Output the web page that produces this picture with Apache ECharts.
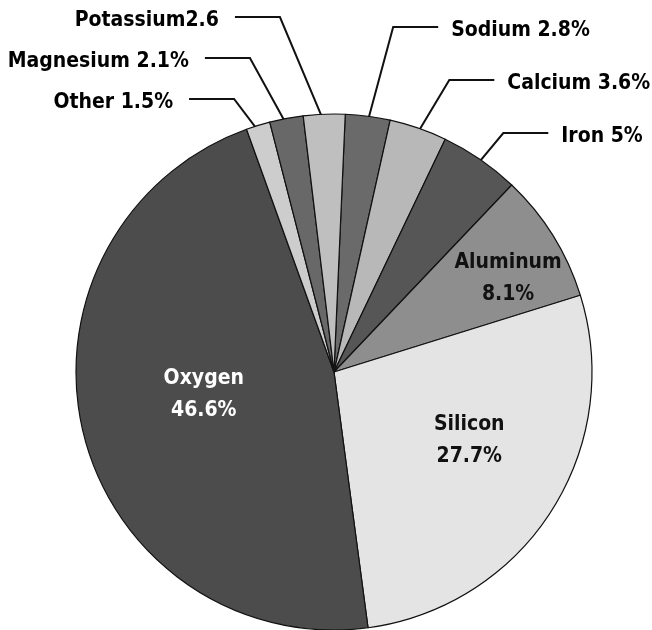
<!DOCTYPE html>
<html><head><meta charset="utf-8">
<script src="https://cdn.jsdelivr.net/npm/echarts@6/dist/echarts.min.js"></script>
<style>html,body{margin:0;padding:0;background:#fff}#c{width:652px;height:630px}</style>
</head><body><div id="c"></div>
<script>
// ---- data ----
const categories = ['Sodium', 'Calcium', 'Iron', 'Aluminum', 'Silicon', 'Oxygen', 'Other', 'Magnesium', 'Potassium'];
const values = [2.8, 3.6, 5, 8.1, 27.7, 46.6, 1.5, 2.1, 2.6];
const labelFormats = ['{b} {c}%', '{b} {c}%', '{b} {c}%', '{b}\n{c}%', '{b}\n{c}%', '{b}\n{c}%', '{b} {c}%', '{b} {c}%', '{b}{c}'];

// ---- style / layout ----
const sliceColors = ['#6a6a6a', '#b8b8b8', '#565656', '#8e8e8e', '#e4e4e4', '#4c4c4c', '#cdcdcd', '#686868', '#bfbfbf'];
const insideLabel = [false, false, false, true, true, true, false, false, false];
const insideTextColor = ['#000', '#000', '#000', '#111', '#111', '#fff', '#000', '#000', '#000'];
const insideShift = [null, null, null, [62, -24], [24, -2], [-2, -9], null, null, null];
const CX = 334, CY = 372, R = 258, START = 87.5;
const FONT = "'Liberation Sans Narrow', 'DejaVu Sans Condensed', 'Roboto Condensed', sans-serif";
const SIDE = {
  L: { top: 17, gap: 41, slopes: [0.42, 0.55, 0.76], textGap: 16 },
  R: { top: 27, gap: 53, slopes: [0.27, 0.6, 0.83], textGap: 13 }
};

// mid angles (derived from values) to rank outside labels per side
const total = values.reduce((a, b) => a + b, 0);
const mids = [];
let acc = START;
values.forEach(v => { const span = v / total * 360; mids.push(acc - span / 2); acc -= span; });
const rank = {};
['L', 'R'].forEach(side => {
  const idx = values.map((v, i) => i).filter(i => !insideLabel[i] && ((Math.cos(mids[i] * Math.PI / 180) < 0) === (side === 'L')));
  idx.sort((a, b) => Math.sin(mids[b] * Math.PI / 180) - Math.sin(mids[a] * Math.PI / 180));
  idx.forEach((i, k) => rank[i] = k);
});

const chart = echarts.init(document.getElementById('c'), null, { renderer: 'canvas' });
chart.setOption({
  animation: false,
  backgroundColor: '#fff',
  series: [{
    type: 'pie',
    center: [CX, CY],
    radius: R,
    startAngle: START,
    clockwise: true,
    avoidLabelOverlap: false,
    itemStyle: { borderColor: '#111', borderWidth: 1.2 },
    emphasis: { disabled: true },
    label: {
      show: true,
      position: 'outside',
      fontFamily: FONT,
      fontWeight: 'bold',
      fontSize: 21,
      color: '#000'
    },
    labelLine: { show: true, lineStyle: { color: '#111', width: 2 } },
    labelLayout: function (p) {
      const i = p.dataIndex;
      if (insideLabel[i]) {
        return { dx: insideShift[i][0], dy: insideShift[i][1] };
      }
      const a = mids[i] * Math.PI / 180;
      const dir = Math.cos(a) < 0 ? -1 : 1;
      const s = SIDE[dir < 0 ? 'L' : 'R'];
      const r0 = R - 9;
      const x0 = CX + r0 * Math.cos(a), y0 = CY - r0 * Math.sin(a);
      const k = rank[i];
      const yE = s.top + k * s.gap;
      const xE = x0 + dir * s.slopes[k] * (y0 - yE);
      const xEnd = xE + dir * 45;
      return {
        x: xEnd + dir * s.textGap,
        y: yE + 4,
        align: dir < 0 ? 'right' : 'left',
        verticalAlign: 'middle',
        labelLinePoints: [[x0, y0], [xE, yE], [xEnd, yE]]
      };
    },
    data: categories.map((name, i) => ({
      name: name,
      value: values[i],
      itemStyle: { color: sliceColors[i] },
      label: insideLabel[i]
        ? { position: 'inside', formatter: labelFormats[i], color: insideTextColor[i], lineHeight: 32, align: 'center' }
        : { formatter: labelFormats[i] },
      labelLine: { show: !insideLabel[i] }
    }))
  }]
});
</script>
</body></html>
